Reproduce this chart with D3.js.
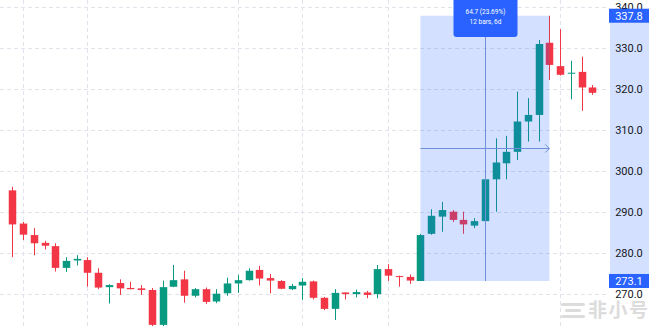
<!DOCTYPE html>
<html><head><meta charset="utf-8">
<script src="https://cdn.jsdelivr.net/npm/d3@7"></script>
<style>html,body{margin:0;padding:0;background:#fff;overflow:hidden}</style>
</head><body><svg id="c" width="656" height="327"></svg>
<script>
const categories = [1,2,3,4,5,6,7,8,9,10,11,12,13,14,15,16,17,18,19,20,21,22,23,24,25,26,27,28,29,30,31,32,33,34,35,36,37,38,39,40,41,42,43,44,45,46,47,48,49,50,51,52,53,54,55];
const opens  = [295.2,287.1,284.3,282.4,281.6,276.3,278.1,278.2,275.1,271.6,272.6,271.4,271.3,270.9,262.4,271.7,273.5,269.5,271.1,268.1,270.1,272.5,273.3,275.8,273.8,273.1,271.1,272.0,273.0,269.0,266.3,270.3,269.9,270.3,269.9,276.0,274.3,274.1,273.1,284.6,288.8,290.0,288.0,286.6,287.7,297.9,301.8,304.6,312.0,313.6,331.2,325.5,323.8,324.1,320.3];
const highs  = [296.1,287.5,286.0,282.9,282.3,278.9,279.4,278.9,276.2,272.3,273.5,272.9,272.1,271.4,273.2,277.0,275.6,271.4,271.5,271.1,273.9,274.6,276.2,276.8,274.8,273.3,272.4,273.8,273.2,269.2,271.1,270.3,271.0,270.7,277.0,277.2,274.4,274.7,284.6,290.6,292.4,290.4,290.0,288.4,297.9,307.9,308.5,319.3,317.7,331.9,337.8,334.5,326.8,327.8,320.9];
const lows   = [278.9,283.1,279.4,280.8,275.4,275.3,276.9,271.7,271.1,267.6,269.7,271.1,269.7,262.1,262.1,271.6,267.8,269.1,267.5,267.7,269.5,270.2,273.2,272.0,270.1,271.1,270.9,268.5,268.6,266.0,263.6,268.6,269.1,268.9,268.9,273.1,271.7,272.4,273.1,284.4,285.1,287.5,284.6,286.0,287.5,290.0,297.9,302.6,307.1,307.1,322.1,323.2,317.4,314.6,318.5];
const closes = [286.9,284.4,282.3,281.7,276.3,278.0,278.5,275.1,271.5,272.1,271.3,271.1,270.9,262.4,271.6,273.3,269.5,271.1,268.0,270.0,272.5,273.3,275.6,273.7,273.2,271.2,271.9,272.9,269.0,266.3,270.2,269.9,270.4,269.7,276.0,274.4,274.1,273.2,284.3,289.0,290.4,288.0,286.9,287.7,297.9,302.0,304.6,312.0,313.6,330.9,325.8,323.4,323.9,320.3,319.0];
const yTicks = [270,280,290,300,310,320,330,340];
const yTickLabels = ["270.0","280.0","290.0","300.0","310.0","320.0","330.0","340.0"];
const gridBars = [2,8,22,28,36,52];
const rangeBars = [39,51];
const rangePrices = [273.1,337.8];
const rangeLabels = ["64.7 (23.69%)","12 bars, 6d"];
const priceBoxLabels = ["337.8","273.1"];
const watermark = "非小号";

const W=656,H=327,plotRight=608;
const UP="#089981", DOWN="#f23645", BLUE="#2962ff";
const svg=d3.select("#c");
svg.append("rect").attr("width",W).attr("height",H).attr("fill","#fff");
const x=d3.scalePoint().domain(categories).range([12.3,592.3]);
const y=d3.scaleLinear().domain([270,340]).range([293.7,6.7]);
const data=categories.map((c,i)=>({c,o:opens[i],h:highs[i],l:lows[i],cl:closes[i]}));

// grid
const g=svg.append("g");
g.selectAll("line.h").data(yTicks).join("line")
 .attr("x1",0).attr("x2",plotRight)
 .attr("y1",d=>Math.round(y(d))+0.5).attr("y2",d=>Math.round(y(d))+0.5)
 .attr("stroke","#e0e3eb").attr("stroke-dasharray","4,3");
g.selectAll("line.v").data(gridBars).join("line")
 .attr("y1",0).attr("y2",H)
 .attr("x1",d=>Math.round(x(d))+0.5).attr("x2",d=>Math.round(x(d))+0.5)
 .attr("stroke","#e0e3eb").attr("stroke-dasharray","4,3");

// candles
const cg=svg.append("g");
const bw=7.5;
cg.selectAll("line").data(data).join("line")
 .attr("x1",d=>Math.round(x(d.c))+0.5).attr("x2",d=>Math.round(x(d.c))+0.5)
 .attr("y1",d=>y(d.h)).attr("y2",d=>y(d.l))
 .attr("stroke",d=>d.cl>=d.o?UP:DOWN).attr("stroke-width",1);
cg.selectAll("rect").data(data).join("rect")
 .attr("x",d=>Math.round(x(d.c))+0.5-bw/2).attr("width",bw)
 .attr("y",d=>Math.min(y(d.o),y(d.cl)))
 .attr("height",d=>Math.max(1,Math.abs(y(d.o)-y(d.cl))))
 .attr("fill",d=>d.cl>=d.o?UP:DOWN);

// measurement range
const rx0=x(rangeBars[0]), rx1=x(rangeBars[1]);
const ry0=y(rangePrices[1]), ry1=y(rangePrices[0]);
svg.append("rect").attr("x",rx0).attr("y",ry0).attr("width",rx1-rx0).attr("height",ry1-ry0)
 .attr("fill",BLUE).attr("fill-opacity",0.2);
const cx=Math.round((rx0+rx1)/2)+0.5, cy=Math.round((ry0+ry1)/2)+0.5;
svg.append("line").attr("x1",cx).attr("x2",cx).attr("y1",ry0).attr("y2",ry1)
 .attr("stroke","#6f8fd8").attr("stroke-width",1);
svg.append("line").attr("x1",rx0).attr("x2",rx1).attr("y1",cy).attr("y2",cy)
 .attr("stroke","#6f8fd8").attr("stroke-width",1);
svg.append("path").attr("d",`M${rx1-4},${cy-4}L${rx1},${cy}L${rx1-4},${cy+4}`)
 .attr("fill","none").attr("stroke","#6f8fd8").attr("stroke-width",1);
// tooltip
svg.append("rect").attr("x",cx-32).attr("y",-4).attr("width",64).attr("height",41).attr("rx",3)
 .attr("fill",BLUE);
svg.selectAll("text.tt").data(rangeLabels).join("text")
 .attr("x",cx).attr("y",(d,i)=>14+i*10).attr("text-anchor","middle")
 .attr("fill","#fff").attr("font-family","Roboto, sans-serif").attr("font-size",6.5)
 .text(d=>d);

// axis strip
svg.append("rect").attr("x",610).attr("width",39).attr("y",ry0).attr("height",ry1-ry0)
 .attr("fill",BLUE).attr("fill-opacity",0.2);
svg.selectAll("text.ax").data(yTicks).join("text")
 .attr("x",629).attr("y",d=>y(d)+4).attr("text-anchor","middle")
 .attr("fill","#131722").attr("font-family","Roboto, sans-serif").attr("font-size",11)
 .text((d,i)=>yTickLabels[i]);
// price boxes
const boxes=[{v:rangePrices[1],t:priceBoxLabels[0]},{v:rangePrices[0],t:priceBoxLabels[1]}];
svg.selectAll("rect.pb").data(boxes).join("rect")
 .attr("x",609).attr("width",40).attr("y",d=>y(d.v)-7).attr("height",14).attr("fill",BLUE);
svg.selectAll("text.pb").data(boxes).join("text")
 .attr("x",629).attr("y",d=>y(d.v)+4).attr("text-anchor","middle")
 .attr("fill","#fff").attr("font-family","Roboto, sans-serif").attr("font-size",11)
 .text(d=>d.t);

// watermark
const wm=svg.append("g").attr("fill","#dcdcdc");
wm.append("rect").attr("x",561).attr("y",303).attr("width",24).attr("height",3).attr("rx",1.5);
wm.append("rect").attr("x",565).attr("y",309).attr("width",16).attr("height",3).attr("rx",1.5);
wm.append("rect").attr("x",561).attr("y",315).attr("width",24).attr("height",3).attr("rx",1.5);
wm.append("text").attr("x",588).attr("y",317).attr("font-family","Noto Sans CJK SC, sans-serif")
 .attr("font-size",19).attr("font-weight","bold").attr("textLength",60).text(watermark);
</script></body></html>
